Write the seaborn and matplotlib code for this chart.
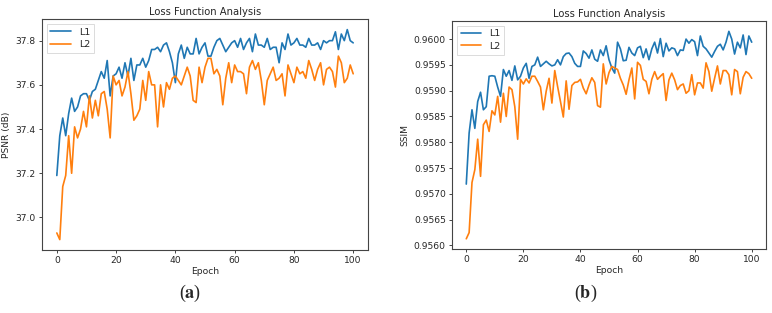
import numpy as np
import pandas as pd
import matplotlib
matplotlib.use("Agg")
import matplotlib.pyplot as plt
import seaborn as sns

# 에폭별 PSNR / SSIM 값
epochs = list(range(101))

psnr_l1 = [37.19, 37.37, 37.45, 37.37, 37.47, 37.54, 37.48, 37.50, 37.55, 37.56,
           37.56, 37.53, 37.57, 37.58, 37.62, 37.66, 37.63, 37.71, 37.55, 37.64,
           37.65, 37.68, 37.63, 37.70, 37.64, 37.72, 37.62, 37.69, 37.69, 37.72,
           37.68, 37.71, 37.76, 37.76, 37.77, 37.75, 37.78, 37.79, 37.75, 37.70,
           37.61, 37.74, 37.78, 37.72, 37.77, 37.74, 37.74, 37.81, 37.74, 37.77,
           37.79, 37.73, 37.73, 37.77, 37.80, 37.81, 37.78, 37.75, 37.77, 37.79,
           37.80, 37.77, 37.81, 37.76, 37.79, 37.81, 37.75, 37.83, 37.78, 37.78,
           37.77, 37.81, 37.76, 37.77, 37.77, 37.70, 37.79, 37.76, 37.83, 37.78,
           37.79, 37.81, 37.78, 37.78, 37.77, 37.81, 37.78, 37.78, 37.79, 37.76,
           37.80, 37.79, 37.80, 37.80, 37.84, 37.76, 37.83, 37.80, 37.85, 37.80,
           37.79]

psnr_l2 = [36.93, 36.90, 37.14, 37.19, 37.37, 37.20, 37.41, 37.36, 37.40, 37.48,
           37.41, 37.55, 37.45, 37.53, 37.46, 37.56, 37.57, 37.49, 37.36, 37.64,
           37.60, 37.62, 37.55, 37.59, 37.66, 37.56, 37.44, 37.46, 37.49, 37.62,
           37.53, 37.66, 37.60, 37.60, 37.41, 37.60, 37.50, 37.61, 37.58, 37.63,
           37.64, 37.62, 37.60, 37.64, 37.68, 37.64, 37.53, 37.52, 37.68, 37.61,
           37.68, 37.72, 37.72, 37.65, 37.67, 37.64, 37.51, 37.63, 37.70, 37.61,
           37.69, 37.66, 37.66, 37.65, 37.56, 37.68, 37.71, 37.67, 37.70, 37.62,
           37.51, 37.62, 37.65, 37.68, 37.62, 37.63, 37.65, 37.55, 37.69, 37.65,
           37.61, 37.68, 37.65, 37.66, 37.63, 37.71, 37.67, 37.62, 37.67, 37.70,
           37.60, 37.67, 37.68, 37.66, 37.59, 37.73, 37.70, 37.61, 37.63, 37.69,
           37.65]

ssim_l1 = [0.95719, 0.95818, 0.95863, 0.95827, 0.95879, 0.95897, 0.95863, 0.95869, 0.95928, 0.95929,
           0.95928, 0.95907, 0.95889, 0.95941, 0.95928, 0.95939, 0.95920, 0.95948, 0.95921, 0.95928,
           0.95944, 0.95953, 0.95924, 0.95947, 0.95950, 0.95965, 0.95947, 0.95952, 0.95957, 0.95952,
           0.95948, 0.95950, 0.95960, 0.95950, 0.95966, 0.95972, 0.95973, 0.95966, 0.95953, 0.95947,
           0.95947, 0.95977, 0.95972, 0.95963, 0.95979, 0.95961, 0.95957, 0.95979, 0.95968, 0.95987,
           0.95960, 0.95944, 0.95934, 0.95994, 0.95981, 0.95958, 0.95959, 0.95984, 0.95973, 0.95968,
           0.95983, 0.95986, 0.95964, 0.95981, 0.95960, 0.95981, 0.95994, 0.95973, 0.96001, 0.95966,
           0.95992, 0.95977, 0.95983, 0.95981, 0.95968, 0.95979, 0.95978, 0.96000, 0.95992, 0.95999,
           0.95995, 0.95968, 0.96006, 0.95986, 0.95981, 0.95973, 0.95965, 0.95976, 0.95986, 0.95990,
           0.95979, 0.95994, 0.96015, 0.96000, 0.95971, 0.95994, 0.95983, 0.96008, 0.95970, 0.96006,
           0.95994]

ssim_l2 = [0.95613, 0.95625, 0.95722, 0.95747, 0.95806, 0.95734, 0.95834, 0.95843, 0.95821, 0.95861,
           0.95853, 0.95889, 0.95839, 0.95895, 0.95850, 0.95907, 0.95902, 0.95869, 0.95806, 0.95922,
           0.95913, 0.95923, 0.95915, 0.95928, 0.95928, 0.95918, 0.95907, 0.95863, 0.95899, 0.95924,
           0.95876, 0.95939, 0.95908, 0.95879, 0.95849, 0.95919, 0.95864, 0.95910, 0.95916, 0.95917,
           0.95922, 0.95905, 0.95894, 0.95911, 0.95925, 0.95916, 0.95871, 0.95868, 0.95952, 0.95913,
           0.95935, 0.95947, 0.95944, 0.95941, 0.95924, 0.95911, 0.95893, 0.95921, 0.95944, 0.95884,
           0.95955, 0.95949, 0.95922, 0.95918, 0.95894, 0.95922, 0.95937, 0.95922, 0.95928, 0.95933,
           0.95881, 0.95921, 0.95934, 0.95921, 0.95902, 0.95910, 0.95913, 0.95895, 0.95900, 0.95931,
           0.95892, 0.95915, 0.95915, 0.95905, 0.95954, 0.95937, 0.95899, 0.95924, 0.95948, 0.95913,
           0.95939, 0.95939, 0.95931, 0.95892, 0.95941, 0.95937, 0.95894, 0.95926, 0.95937, 0.95933,
           0.95924]

loss_names = ["L1", "L2"]
colors = ["#1f77b4", "#ff7f0e"]

sns.set_style("ticks")
plt.rcParams['font.family'] = ['DejaVu Sans']
plt.rcParams['mathtext.fontset'] = 'stix'

fig = plt.figure(figsize=(7.72, 3.13), dpi=100)
ax_a = fig.add_axes([0.0544, 0.201, 0.4223, 0.738])
ax_b = fig.add_axes([0.5855, 0.204, 0.4067, 0.729])


def long_df(v1, v2):
    return pd.DataFrame({
        "Epoch": epochs * 2,
        "value": v1 + v2,
        "Loss": [loss_names[0]] * len(v1) + [loss_names[1]] * len(v2),
    })


panels = [
    (ax_a, long_df(psnr_l1, psnr_l2), "PSNR (dB)", "{:.1f}"),
    (ax_b, long_df(ssim_l1, ssim_l2), "SSIM", "{:.4f}"),
]

for ax, df, ylab, fmt in panels:
    sns.lineplot(data=df, x="Epoch", y="value", hue="Loss", palette=colors,
                 linewidth=1.2, ax=ax)
    ax.set_title("Loss Function Analysis", fontsize=7.2, pad=3)
    ax.set_xlabel("Epoch", fontsize=6.6, labelpad=1.5)
    ax.set_ylabel(ylab, fontsize=6.6, labelpad=3)
    ax.set_xticks([0, 20, 40, 60, 80, 100])
    ax.tick_params(labelsize=6.6, length=2.5, width=0.6, pad=2)
    ax.yaxis.set_major_formatter(matplotlib.ticker.FuncFormatter(lambda v, p, f=fmt: f.format(v)))
    for sp in ax.spines.values():
        sp.set_linewidth(0.8)
        sp.set_color("#444444")
    leg = ax.legend(loc="upper left", fontsize=6.8, frameon=True, handlelength=2.2,
                    borderpad=0.4, labelspacing=0.35, fancybox=False)
    leg.get_frame().set_linewidth(0.6)
    leg.get_frame().set_edgecolor("#cccccc")

ax_b.set_yticks([0.9560, 0.9565, 0.9570, 0.9575, 0.9580, 0.9585, 0.9590, 0.9595, 0.9600])
ax_a.set_yticks([37.0, 37.2, 37.4, 37.6, 37.8])

fig.text(0.246, 0.063, r"($\mathbf{a}$)", ha="center", va="center", fontsize=13,
         family="Liberation Serif")
fig.text(0.758, 0.063, r"($\mathbf{b}$)", ha="center", va="center", fontsize=13,
         family="Liberation Serif")

fig.savefig("out.png", dpi=100)
